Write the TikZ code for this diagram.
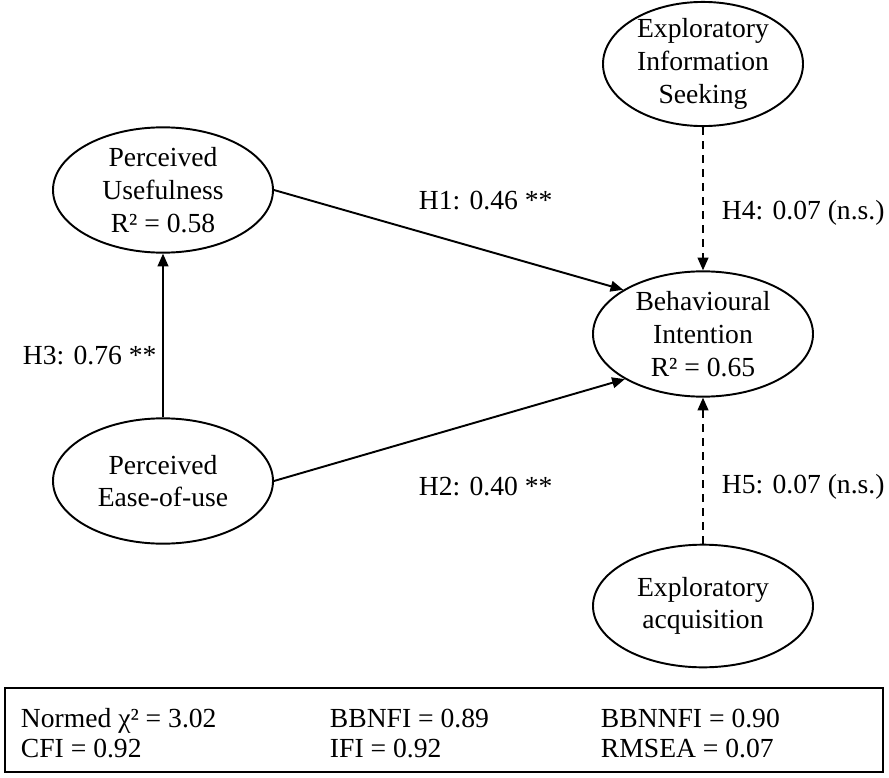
\documentclass[tikz,border=0pt]{standalone}
\usepackage{fontspec}
\setmainfont{Liberation Serif}
\usetikzlibrary{shapes.geometric,arrows.meta}

\tikzset{every picture/.style={line width=1.45pt},
	every node/.style={font=\fontsize{20.7}{24.5}\selectfont},
	construct/.style={draw, ellipse, align=center, inner xsep=0pt, inner ysep=-1pt, minimum width=165pt, minimum height=94pt},
	hyparrow/.style={-{Triangle[length=9.5pt,width=8pt]}},
	hypdashed/.style={hyparrow, dash pattern=on 6pt off 4.5pt},
	hyplabel/.style={anchor=base west, inner sep=0pt},
	fitlabel/.style={anchor=base west, inner sep=0pt}
}

\begin{document}
\begin{tikzpicture}[x=0.75pt,y=0.75pt,yscale=-1,xscale=1]
	\useasboundingbox (0,0) rectangle (889,778);
	
	% Constructs
	\node [construct, minimum width=150pt, minimum height=92pt] (eis) at (703,64) {Exploratory\\Information\\Seeking};
	\node [construct] (pu) at (163,190) {Perceived\\Usefulness\\R² = 0.58};
	\node [construct] (bi) at (703,334) {Behavioural\\Intention\\R² = 0.65};
	\node [construct] (peu) at (163,481) {Perceived\\Ease-of-use};
	\node [construct, minimum height=92pt] (ea) at (703,606) {Exploratory\\acquisition};
	
	% Paths
	\draw [hyparrow] (pu.east) -- (bi.151);
	\draw [hyparrow] (peu.east) -- (bi.210);
	\draw [hyparrow] (peu.north) -- (pu.south);
	\draw [hypdashed] (eis.south) -- (bi.north);
	\draw [hypdashed] (ea.north) -- (bi.south);
	
	% Text Node
	\node [hyplabel] (h1) at (418,209) {H1: 0.46 **};
	% Text Node
	\node [hyplabel] (h2) at (418,495) {H2: 0.40 **};
	% Text Node
	\node [hyplabel] (h3) at (22,364) {H3: 0.76 **};
	% Text Node
	\node [hyplabel] (h4) at (721,219) {H4: 0.07 (n.s.)};
	% Text Node
	\node [hyplabel] (h5) at (721,493) {H5: 0.07 (n.s.)};
	
	% Fit indices
	\draw (5,688) rectangle (883,772);
	\node [fitlabel] (chi) at (20,727) {Normed χ² = 3.02};
	\node [fitlabel] (bbnfi) at (329,727) {BBNFI = 0.89};
	\node [fitlabel] (bbnnfi) at (600,727) {BBNNFI = 0.90};
	\node [fitlabel] (cfi) at (20,757) {CFI = 0.92};
	\node [fitlabel] (ifi) at (329,757) {IFI = 0.92};
	\node [fitlabel] (rmsea) at (600,757) {RMSEA = 0.07};
	
\end{tikzpicture}
\end{document}
